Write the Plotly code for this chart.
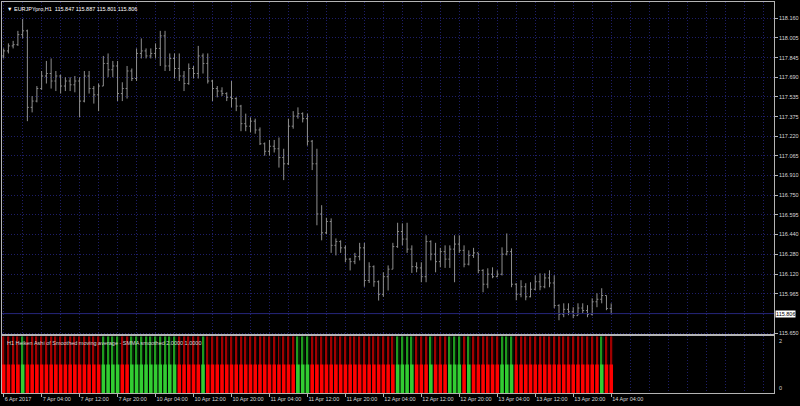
import plotly.graph_objects as go

symbol = "EURJPYpro,H1"
indicator_name = "H1 Heiken Ashi of Smoothed moving average - SMMA smoothed 2.0000 1.0000"

# hourly bars, 6 Apr 2017 20:00 .. 14 Apr 2017 04:00 (no weekend)
bar_open = [117.86, 117.90, 117.94, 117.95, 118.03, 118.06, 117.45, 117.50, 117.60, 117.70,
            117.72, 117.66, 117.70, 117.62, 117.66, 117.63, 117.66, 117.50, 117.70, 117.60,
            117.55, 117.62, 117.80, 117.75, 117.78, 117.56, 117.60, 117.74, 117.68, 117.88,
            117.90, 117.86, 117.88, 117.92, 118.02, 117.78, 117.84, 117.76, 117.70, 117.64,
            117.76, 117.72, 117.86, 117.80, 117.66, 117.60, 117.58, 117.56, 117.53, 117.52,
            117.46, 117.32, 117.30, 117.34, 117.27, 117.16, 117.10, 117.14, 117.12, 117.05,
            117.00, 117.30, 117.38, 117.40, 117.36, 117.18, 117.00, 116.60, 116.45, 116.54,
            116.35, 116.38, 116.33, 116.24, 116.22, 116.26, 116.33, 116.07, 116.18, 116.06,
            115.96, 116.10, 116.16, 116.34, 116.46, 116.40, 116.32, 116.18, 116.17, 116.10,
            116.38, 116.28, 116.22, 116.30, 116.24, 116.32, 116.36, 116.31, 116.20, 116.27,
            116.29, 116.15, 116.04, 116.12, 116.10, 116.12, 116.28, 116.30, 116.04, 115.96,
            116.02, 115.94, 116.00, 116.06, 116.02, 116.09, 116.05, 115.87, 115.80, 115.84,
            115.82, 115.79, 115.85, 115.83, 115.80, 115.90, 115.92, 115.95, 115.847]
bar_high = [117.92, 117.96, 117.98, 118.06, 118.155, 118.07, 117.54, 117.62, 117.74, 117.82,
            117.84, 117.74, 117.71, 117.69, 117.69, 117.70, 117.69, 117.74, 117.74, 117.62,
            117.64, 117.86, 117.88, 117.82, 117.82, 117.65, 117.78, 117.76, 117.92, 118.00,
            117.92, 117.92, 117.96, 118.06, 118.06, 117.88, 117.88, 117.88, 117.74, 117.80,
            117.78, 117.94, 117.88, 117.88, 117.67, 117.62, 117.61, 117.57, 117.66, 117.53,
            117.47, 117.40, 117.37, 117.36, 117.29, 117.17, 117.19, 117.19, 117.21, 117.12,
            117.36, 117.42, 117.45, 117.41, 117.40, 117.19, 117.12, 116.67, 116.57, 116.565,
            116.405, 116.39, 116.35, 116.25, 116.29, 116.37, 116.37, 116.215, 116.19, 116.07,
            116.135, 116.19, 116.37, 116.53, 116.525, 116.53, 116.35, 116.215, 116.215, 116.43,
            116.39, 116.37, 116.33, 116.35, 116.35, 116.43, 116.43, 116.35, 116.31, 116.33,
            116.29, 116.16, 116.167, 116.175, 116.151, 116.334, 116.445, 116.326, 116.048, 116.072,
            116.048, 116.056, 116.111, 116.127, 116.127, 116.151, 116.111, 115.88, 115.888, 115.888,
            115.857, 115.888, 115.888, 115.873, 115.928, 115.968, 116.008, 115.95, 115.887]
bar_low = [117.84, 117.88, 117.92, 117.94, 118.00, 117.34, 117.41, 117.49, 117.59, 117.64,
           117.60, 117.58, 117.56, 117.58, 117.58, 117.57, 117.37, 117.49, 117.56, 117.48,
           117.42, 117.62, 117.69, 117.69, 117.50, 117.50, 117.52, 117.66, 117.66, 117.84,
           117.84, 117.84, 117.84, 117.78, 117.74, 117.74, 117.68, 117.66, 117.58, 117.63,
           117.68, 117.68, 117.72, 117.64, 117.50, 117.53, 117.54, 117.50, 117.45, 117.42,
           117.26, 117.26, 117.25, 117.24, 117.15, 117.065, 117.065, 117.09, 116.97, 116.87,
           116.99, 117.28, 117.36, 117.33, 117.145, 116.95, 116.51, 116.39, 116.44, 116.29,
           116.27, 116.29, 116.215, 116.15, 116.20, 116.23, 116.02, 116.05, 116.02, 115.91,
           115.94, 115.99, 116.16, 116.33, 116.35, 116.29, 116.13, 116.135, 116.056, 116.056,
           116.23, 116.135, 116.175, 116.17, 116.17, 116.056, 116.29, 116.175, 116.19, 116.25,
           116.127, 115.976, 116.008, 116.088, 116.096, 116.11, 116.27, 116.016, 115.912, 115.936,
           115.912, 115.936, 115.992, 115.992, 116.008, 116.016, 115.849, 115.753, 115.777, 115.793,
           115.769, 115.793, 115.809, 115.777, 115.79, 115.857, 115.888, 115.833, 115.801]
bar_close = [117.90, 117.94, 117.95, 118.03, 118.06, 117.45, 117.50, 117.60, 117.70, 117.72,
             117.66, 117.70, 117.62, 117.66, 117.63, 117.66, 117.50, 117.70, 117.60, 117.55,
             117.62, 117.80, 117.75, 117.78, 117.56, 117.60, 117.74, 117.68, 117.88, 117.90,
             117.86, 117.88, 117.92, 118.02, 117.78, 117.84, 117.76, 117.70, 117.64, 117.76,
             117.72, 117.86, 117.80, 117.66, 117.60, 117.58, 117.56, 117.53, 117.52, 117.46,
             117.32, 117.30, 117.34, 117.27, 117.16, 117.10, 117.14, 117.12, 117.05, 117.00,
             117.30, 117.38, 117.40, 117.36, 117.18, 117.00, 116.60, 116.45, 116.54, 116.35,
             116.38, 116.33, 116.24, 116.22, 116.26, 116.33, 116.07, 116.18, 116.06, 115.96,
             116.10, 116.16, 116.34, 116.46, 116.40, 116.32, 116.18, 116.17, 116.10, 116.38,
             116.28, 116.22, 116.30, 116.24, 116.32, 116.36, 116.31, 116.20, 116.27, 116.29,
             116.15, 116.04, 116.12, 116.10, 116.12, 116.28, 116.30, 116.04, 115.96, 116.02,
             115.94, 116.00, 116.06, 116.02, 116.09, 116.05, 115.87, 115.80, 115.84, 115.82,
             115.79, 115.85, 115.83, 115.80, 115.90, 115.92, 115.95, 115.847, 115.806]

# heiken ashi direction per bar: 1 = up (green), 0 = down (red)
ha_up = [0, 0, 0, 0, 1, 0, 0, 0, 0, 0,
         0, 0, 0, 0, 0, 0, 0, 0, 0, 0,
         0, 1, 1, 1, 1, 0, 0, 1, 1, 1,
         1, 1, 1, 1, 1, 1, 1, 0, 0, 0,
         0, 0, 1, 0, 0, 0, 0, 0, 0, 0,
         0, 0, 0, 0, 0, 0, 0, 0, 0, 0,
         0, 0, 1, 1, 1, 0, 0, 0, 0, 0,
         0, 0, 0, 0, 0, 0, 0, 0, 0, 0,
         0, 0, 0, 1, 1, 1, 1, 0, 0, 0,
         1, 0, 0, 0, 1, 1, 1, 0, 1, 0,
         0, 0, 0, 0, 0, 1, 1, 1, 0, 0,
         0, 0, 0, 0, 0, 0, 0, 0, 0, 0,
         0, 0, 0, 0, 0, 0, 1, 0, 0]
ha_hi_level = 2.0
ha_lo_level = 1.0

time_labels = ["6 Apr 2017", "7 Apr 04:00", "7 Apr 12:00", "7 Apr 20:00", "10 Apr 04:00",
               "10 Apr 12:00", "10 Apr 20:00", "11 Apr 04:00", "11 Apr 12:00", "11 Apr 20:00",
               "12 Apr 04:00", "12 Apr 12:00", "12 Apr 20:00", "13 Apr 04:00", "13 Apr 12:00",
               "13 Apr 20:00", "14 Apr 04:00"]
price_ticks = [118.160, 118.005, 117.845, 117.690, 117.535, 117.375, 117.220, 117.065,
               116.910, 116.750, 116.595, 116.440, 116.280, 116.120, 115.965, 115.650]

n = len(bar_close)
idx = list(range(n))

FONT = "Liberation Sans, DejaVu Sans, sans-serif"
TXT = "#d8d8d8"
GRID = "#1e1e68"
DASH = "1px,2px"
FRAME = "#b4b4b4"

fig = go.Figure()

fig.add_trace(go.Ohlc(
    x=idx, open=bar_open, high=bar_high, low=bar_low, close=bar_close,
    increasing_line_color="#8f8f8f", decreasing_line_color="#8f8f8f",
    line_width=1, tickwidth=0.3, showlegend=False, hoverinfo="skip",
    xaxis="x", yaxis="y"))

# indicator histogram: dim column + thin line up to 2, bright body up to 1
fig.add_trace(go.Bar(
    x=idx, y=[ha_hi_level] * n, width=0.4, offset=0.0,
    marker=dict(color=["#082c08" if u else "#2c0000" for u in ha_up], line_width=0),
    showlegend=False, hoverinfo="skip", xaxis="x2", yaxis="y2"))
fig.add_trace(go.Bar(
    x=idx, y=[ha_hi_level] * n, width=0.21, offset=-0.2,
    marker=dict(color=["#1e9a1e" if u else "#a00000" for u in ha_up], line_width=0),
    showlegend=False, hoverinfo="skip", xaxis="x2", yaxis="y2"))
fig.add_trace(go.Bar(
    x=idx, y=[ha_lo_level] * n, width=0.75,
    marker=dict(color=["#32cd32" if u else "#ff0000" for u in ha_up], line_width=0),
    showlegend=False, hoverinfo="skip", xaxis="x2", yaxis="y2"))

x_range = [-0.35, 162.3]
grid_vals = list(range(0, 164, 4))

fig.update_layout(
    width=800, height=406,
    margin=dict(l=1, r=25, t=1, b=13),
    paper_bgcolor="#000000", plot_bgcolor="#000000",
    barmode="overlay",
    font=dict(family=FONT, size=5.5, color=TXT),
    xaxis=dict(
        domain=[0, 1], anchor="y", range=x_range,
        rangeslider=dict(visible=False),
        tickmode="array", tickvals=grid_vals, showticklabels=False, ticks="",
        showgrid=True, gridcolor=GRID, griddash=DASH, gridwidth=1,
        showline=True, linecolor=FRAME, linewidth=1, mirror=True, zeroline=False),
    yaxis=dict(
        domain=[0.1505, 1], anchor="x", side="right",
        range=[115.642, 118.290],
        tickmode="array", tickvals=price_ticks, tickformat=".3f",
        ticks="outside", ticklen=3, tickcolor=FRAME,
        showgrid=True, gridcolor=GRID, griddash=DASH, gridwidth=1,
        showline=True, linecolor=FRAME, linewidth=1, mirror=True, zeroline=False),
    xaxis2=dict(
        domain=[0, 1], anchor="y2", range=x_range, matches="x",
        tickmode="array", tickvals=list(range(0, n, 8)), ticktext=time_labels,
        ticklabelposition="outside right", tickangle=0,
        ticks="outside", ticklen=3, tickcolor=FRAME,
        showgrid=True, gridcolor=GRID, griddash=DASH, gridwidth=1,
        minor=dict(tickmode="array", tickvals=grid_vals, showgrid=True,
                   gridcolor=GRID, griddash=DASH, ticks=""),
        showline=True, linecolor=FRAME, linewidth=1, mirror=True, zeroline=False),
    yaxis2=dict(
        domain=[0, 0.1454], anchor="x2", side="right", range=[0, 2],
        showticklabels=False, ticks="", showgrid=False,
        showline=True, linecolor=FRAME, linewidth=1, mirror=True, zeroline=False),
)

# current price line and label
last = bar_close[-1]
fig.add_shape(type="line", xref="paper", yref="y", x0=0, x1=1, y0=last, y1=last,
              line=dict(color="#25257a", width=1))
fig.add_annotation(xref="paper", yref="y", x=1, y=last, xanchor="left", yanchor="middle",
                   xshift=1, text=f"{last:.3f}", showarrow=False, bgcolor="#ffffff",
                   borderpad=0, font=dict(color="#000000", size=5.5, family=FONT))

# header texts
fig.add_annotation(xref="paper", yref="paper", x=0, y=1, xanchor="left", yanchor="top",
                   xshift=3, yshift=-2, showarrow=False,
                   text=f"\u25bc {symbol}  {bar_open[-1]:.3f} {bar_high[-1]:.3f} "
                        f"{bar_low[-1]:.3f} {bar_close[-1]:.3f}",
                   font=dict(color="#ffffff", size=5.5, family=FONT))
fig.add_annotation(xref="paper", yref="paper", x=0, y=0.1454, xanchor="left", yanchor="top",
                   xshift=3, yshift=-2, showarrow=False, text=indicator_name,
                   font=dict(color=TXT, size=5.5, family=FONT))

# indicator scale labels
fig.add_annotation(xref="paper", yref="y2", x=1, y=2, xanchor="left", yanchor="top",
                   xshift=3, showarrow=False, text="2", font=dict(color=TXT, size=5.5, family=FONT))
fig.add_annotation(xref="paper", yref="y2", x=1, y=0, xanchor="left", yanchor="bottom",
                   xshift=3, showarrow=False, text="0", font=dict(color=TXT, size=5.5, family=FONT))

fig.write_html("out.html", config={"displayModeBar": False},
               post_script="document.body.style.margin='0';")
